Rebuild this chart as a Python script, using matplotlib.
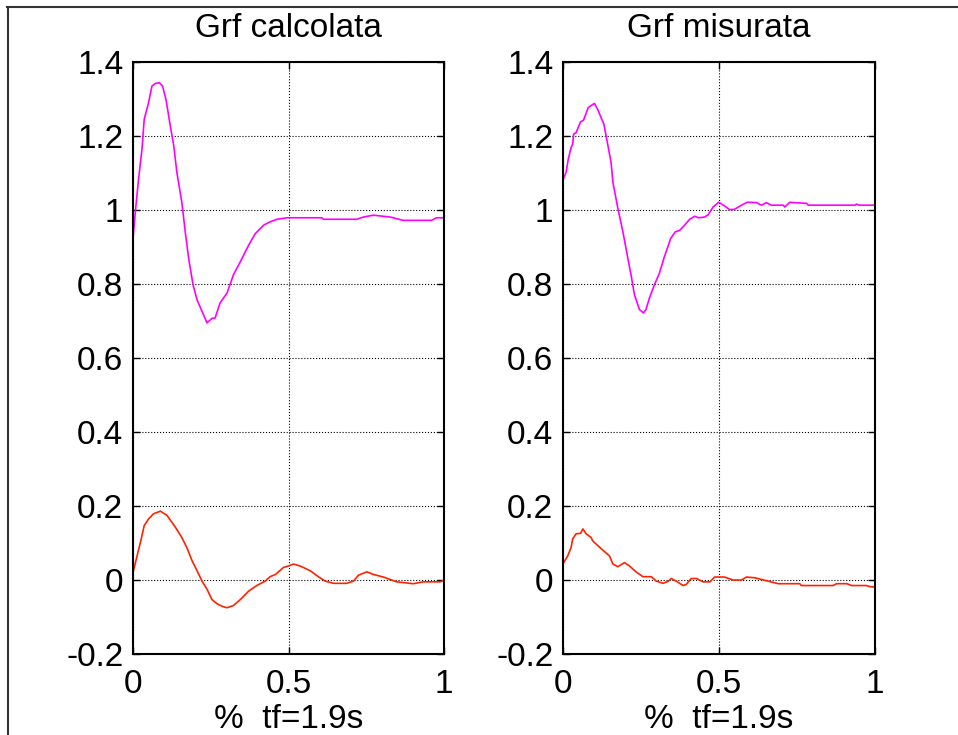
import numpy as np
import matplotlib
matplotlib.use('Agg')
import matplotlib.pyplot as plt
from matplotlib.lines import Line2D

plt.rcParams['font.family'] = ['Liberation Sans', 'DejaVu Sans']

# Grf calcolata (computed) - vertical component
calc_v_x = [0.0, 0.0075, 0.018, 0.029, 0.036, 0.050, 0.061, 0.072, 0.085, 0.095, 0.106,
            0.120, 0.131, 0.141, 0.157, 0.168, 0.179, 0.193, 0.206, 0.222, 0.238, 0.254,
            0.264, 0.280, 0.302, 0.323, 0.345, 0.372, 0.393, 0.420, 0.441, 0.463, 0.495,
            0.537, 0.607, 0.612, 0.719, 0.741, 0.773, 0.794, 0.827, 0.869, 0.960, 0.976, 1.0]
calc_v_y = [0.923, 0.995, 1.084, 1.165, 1.245, 1.290, 1.335, 1.342, 1.344, 1.335, 1.299,
            1.227, 1.174, 1.102, 1.021, 0.941, 0.869, 0.798, 0.757, 0.726, 0.695, 0.707,
            0.708, 0.749, 0.775, 0.825, 0.860, 0.905, 0.936, 0.959, 0.968, 0.975, 0.979,
            0.979, 0.979, 0.975, 0.975, 0.981, 0.986, 0.984, 0.981, 0.972, 0.972, 0.979, 0.979]

# Grf calcolata - horizontal component
calc_h_x = [0.0, 0.013, 0.024, 0.036, 0.050, 0.066, 0.088, 0.109, 0.136, 0.157, 0.173,
            0.190, 0.206, 0.222, 0.238, 0.254, 0.270, 0.286, 0.302, 0.323, 0.345, 0.372,
            0.398, 0.425, 0.441, 0.458, 0.484, 0.500, 0.516, 0.537, 0.570, 0.596, 0.618,
            0.645, 0.687, 0.709, 0.725, 0.752, 0.773, 0.805, 0.848, 0.901, 0.934, 0.987, 1.0]
calc_h_y = [0.020, 0.065, 0.102, 0.147, 0.165, 0.179, 0.186, 0.175, 0.143, 0.115, 0.088,
            0.052, 0.025, -0.003, -0.025, -0.053, -0.064, -0.071, -0.075, -0.069, -0.053, -0.030,
            -0.015, -0.003, 0.009, 0.015, 0.034, 0.038, 0.043, 0.038, 0.025, 0.009, -0.003,
            -0.009, -0.009, -0.003, 0.013, 0.022, 0.015, 0.008, -0.005, -0.010, -0.005, -0.005, -0.001]

# Grf misurata (measured) - vertical component
mis_v_x = [0.002, 0.010, 0.017, 0.026, 0.031, 0.034, 0.042, 0.056, 0.066, 0.081, 0.095,
           0.101, 0.111, 0.131, 0.144, 0.154, 0.160, 0.176, 0.192, 0.208, 0.218, 0.229,
           0.245, 0.258, 0.266, 0.277, 0.293, 0.309, 0.325, 0.338, 0.345, 0.360, 0.374,
           0.390, 0.406, 0.422, 0.435, 0.454, 0.465, 0.481, 0.499, 0.518, 0.534, 0.550,
           0.572, 0.591, 0.620, 0.636, 0.652, 0.668, 0.706, 0.711, 0.727, 0.738, 0.781,
           0.786, 0.936, 0.941, 0.949, 1.0]
mis_v_y = [1.086, 1.102, 1.138, 1.169, 1.178, 1.205, 1.209, 1.238, 1.243, 1.277, 1.285,
           1.288, 1.272, 1.232, 1.174, 1.129, 1.075, 1.004, 0.941, 0.869, 0.825, 0.771,
           0.731, 0.722, 0.731, 0.762, 0.798, 0.829, 0.874, 0.905, 0.923, 0.941, 0.945,
           0.959, 0.975, 0.983, 0.979, 0.981, 0.987, 1.008, 1.021, 1.011, 1.001, 1.002,
           1.013, 1.021, 1.020, 1.013, 1.020, 1.013, 1.013, 1.008, 1.021, 1.020, 1.018,
           1.013, 1.013, 1.016, 1.013, 1.013]

# Grf misurata - horizontal component
mis_h_x = [0.002, 0.015, 0.026, 0.031, 0.042, 0.056, 0.064, 0.074, 0.090, 0.095, 0.122,
           0.149, 0.160, 0.176, 0.197, 0.213, 0.234, 0.256, 0.283, 0.299, 0.321, 0.338,
           0.347, 0.363, 0.385, 0.395, 0.411, 0.428, 0.449, 0.471, 0.486, 0.518, 0.545,
           0.572, 0.588, 0.615, 0.657, 0.690, 0.759, 0.764, 0.866, 0.877, 0.910, 0.925,
           0.973, 0.984, 1.0]
mis_h_y = [0.047, 0.065, 0.088, 0.111, 0.125, 0.126, 0.138, 0.125, 0.115, 0.106, 0.085,
           0.065, 0.043, 0.036, 0.047, 0.038, 0.022, 0.009, 0.009, -0.003, -0.009, -0.003,
           0.004, -0.003, -0.015, -0.012, 0.004, 0.004, -0.005, -0.005, 0.008, 0.008, 0.000,
           0.000, 0.008, 0.006, -0.003, -0.010, -0.010, -0.015, -0.015, -0.010, -0.010, -0.015,
           -0.015, -0.018, -0.019]

titles = ['Grf calcolata', 'Grf misurata']
xlabel = '%  tf=1.9s'
yticks = [-0.2, 0, 0.2, 0.4, 0.6, 0.8, 1, 1.2, 1.4]
ytick_labels = ['-0.2', '0', '0.2', '0.4', '0.6', '0.8', '1', '1.2', '1.4']
xticks = [0, 0.5, 1]
xtick_labels = ['0', '0.5', '1']

W, H = 958, 735
fig = plt.figure(figsize=(W / 100, H / 100), dpi=100)

# axes boxes in pixels (left, right, top, bottom)
boxes = [(133, 444, 62, 654), (563, 875, 62, 654)]
series = [((calc_v_x, calc_v_y), (calc_h_x, calc_h_y)),
          ((mis_v_x, mis_v_y), (mis_h_x, mis_h_y))]

for (l, r, t, b), title, (vert, horiz) in zip(boxes, titles, series):
    ax = fig.add_axes([l / W, 1 - b / H, (r - l) / W, (b - t) / H])
    ax.plot(*vert, color='#ff00ff', lw=1.2)
    ax.plot(*horiz, color='#ff2200', lw=1.2)
    ax.set_xlim(0, 1)
    ax.set_ylim(-0.2, 1.4)
    ax.set_xticks(xticks, xtick_labels)
    ax.set_yticks(yticks, ytick_labels)
    ax.tick_params(direction='in', length=5, width=1, top=True, right=True,
                   labelsize=24)
    ax.tick_params(axis='x', pad=11)
    ax.tick_params(axis='y', pad=7)
    ax.grid(True, color='black', ls=':', lw=0.8)
    for s in ax.spines.values():
        s.set_linewidth(1.5)
    ax.set_title(title, fontsize=24, pad=18)
    ax.set_xlabel(xlabel, fontsize=24, labelpad=3)

# window frame (cropped at right and bottom)
fig.add_artist(Line2D([7.5 / W, 7.5 / W], [0, 1 - 7 / H], color='#333333', lw=1.5,
                      transform=fig.transFigure))
fig.add_artist(Line2D([7 / W, 1], [1 - 7 / H, 1 - 7 / H], color='#333333', lw=1.5,
                      transform=fig.transFigure))

fig.savefig('out.png', dpi=100)
